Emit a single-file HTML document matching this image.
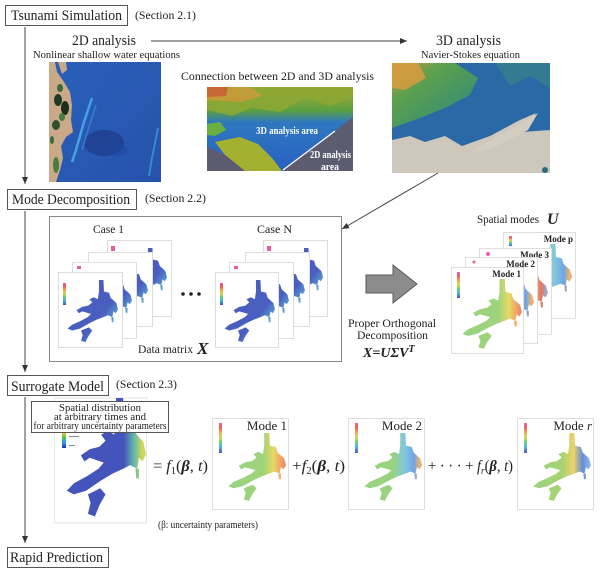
<!DOCTYPE html>
<html><head><meta charset="utf-8">
<style>
html,body{margin:0;padding:0;background:#fff;}
svg{display:block;}
text{font-family:"Liberation Serif",serif;fill:#222;}
</style></head><body>
<svg width="600" height="572" viewBox="0 0 600 572" xmlns="http://www.w3.org/2000/svg">
<defs>
 <marker id="ah" markerWidth="8" markerHeight="8" refX="7" refY="4" orient="auto" markerUnits="userSpaceOnUse">
   <path d="M0,1 L7,4 L0,7 Z" fill="#333"/>
 </marker>
 <symbol id="city" viewBox="0 0 100 100" preserveAspectRatio="none">
   <path d="M66,0 L74,0 L75,18 L84,20 L87,28 L97,36 L100,46 L96,52 L92,49 L90,58 L82,55 L74,58 L62,62 L48,68 L32,76 L18,79 L10,76 L18,70 L33,64 L46,58 L52,53 L44,51 L36,49 L30,52 L26,47 L36,42 L47,40 L54,35 L49,30 L57,27 L64,30 L66,18 Z M34,79 L48,74 L54,79 L47,88 L42,97 L34,95 L37,86 Z M88,58 L92,58 L92,66 L89,66 Z"/>
 </symbol>
 <linearGradient id="gCB" x1="0" y1="0" x2="0" y2="1">
   <stop offset="0" stop-color="#e040a0"/><stop offset=".15" stop-color="#e83830"/>
   <stop offset=".35" stop-color="#f0a030"/><stop offset=".5" stop-color="#c0d030"/>
   <stop offset=".65" stop-color="#40c060"/><stop offset=".8" stop-color="#30a0e0"/>
   <stop offset="1" stop-color="#2030a0"/>
 </linearGradient>
 <linearGradient id="gCase" x1="0" y1="0" x2="1" y2="1">
   <stop offset="0" stop-color="#2a42b4"/><stop offset=".62" stop-color="#2a42b4"/>
   <stop offset=".8" stop-color="#40a0c8"/><stop offset=".92" stop-color="#88c848"/>
   <stop offset="1" stop-color="#88c848"/>
 </linearGradient>
 <linearGradient id="gM1" x1="0" y1="0" x2="1" y2="0">
   <stop offset="0" stop-color="#7cc860"/><stop offset=".6" stop-color="#86c858"/>
   <stop offset=".78" stop-color="#e0d040"/><stop offset=".9" stop-color="#f09040"/>
   <stop offset="1" stop-color="#e86040"/>
 </linearGradient>
 <linearGradient id="gM2" x1="0" y1="0" x2="1" y2="0">
   <stop offset="0" stop-color="#80c860"/><stop offset=".5" stop-color="#80c860"/>
   <stop offset=".7" stop-color="#60b8d8"/><stop offset=".86" stop-color="#4a8ee0"/>
   <stop offset=".96" stop-color="#f0a040"/><stop offset="1" stop-color="#f08040"/>
 </linearGradient>
 <linearGradient id="gM3" x1="0" y1="0" x2="1" y2="0">
   <stop offset="0" stop-color="#80c860"/><stop offset=".55" stop-color="#80c860"/>
   <stop offset=".75" stop-color="#e8b040"/><stop offset=".88" stop-color="#e05040"/>
   <stop offset="1" stop-color="#60b0e0"/>
 </linearGradient>
 <linearGradient id="gMr" x1="0" y1="0" x2="1" y2="0">
   <stop offset="0" stop-color="#80c860"/><stop offset=".5" stop-color="#90c850"/>
   <stop offset=".7" stop-color="#e8c840"/><stop offset=".85" stop-color="#4070d0"/>
   <stop offset="1" stop-color="#70b0e0"/>
 </linearGradient>
 <linearGradient id="gSur" x1="0" y1="0" x2="1" y2="0">
   <stop offset="0" stop-color="#2a3cb0"/><stop offset=".72" stop-color="#2a3cb0"/>
   <stop offset=".85" stop-color="#50b0a0"/><stop offset=".95" stop-color="#c8d040"/>
   <stop offset="1" stop-color="#c8d040"/>
 </linearGradient>
 <linearGradient id="gSea" x1="0" y1="0" x2="1" y2="1">
   <stop offset="0" stop-color="#2a60b8"/><stop offset="1" stop-color="#2652ac"/>
 </linearGradient>
 <linearGradient id="gGrn3" x1="0" y1="0" x2="1" y2="1">
   <stop offset="0" stop-color="#c8a040"/><stop offset=".3" stop-color="#5ea04c"/>
   <stop offset=".75" stop-color="#3a9070"/><stop offset="1" stop-color="#2e7c98"/>
 </linearGradient>
 <linearGradient id="gCon" x1="0" y1="0" x2="0" y2="1">
   <stop offset="0" stop-color="#a8a838"/><stop offset=".28" stop-color="#5aa040"/>
   <stop offset=".42" stop-color="#2e78c0"/><stop offset="1" stop-color="#2a60c0"/>
 </linearGradient>
</defs>

<!-- ===== Headers ===== -->
<rect x="5.5" y="5.5" width="122" height="20" fill="#fff" stroke="#555"/>
<text x="11" y="20" font-size="15" textLength="111" lengthAdjust="spacingAndGlyphs">Tsunami Simulation</text>
<text x="135" y="19" font-size="12" textLength="61" lengthAdjust="spacingAndGlyphs">(Section 2.1)</text>

<rect x="7.5" y="189.5" width="129" height="20" fill="#fff" stroke="#555"/>
<text x="12" y="204" font-size="15" textLength="118" lengthAdjust="spacingAndGlyphs">Mode Decomposition</text>
<text x="145" y="202" font-size="12" textLength="61" lengthAdjust="spacingAndGlyphs">(Section 2.2)</text>

<rect x="7.5" y="375.5" width="101" height="20" fill="#fff" stroke="#555"/>
<text x="11" y="391" font-size="15" textLength="93" lengthAdjust="spacingAndGlyphs">Surrogate Model</text>
<text x="116" y="388" font-size="12" textLength="61" lengthAdjust="spacingAndGlyphs">(Section 2.3)</text>

<rect x="7.5" y="547.5" width="101" height="20" fill="#fff" stroke="#555"/>
<text x="10" y="562" font-size="15" textLength="93" lengthAdjust="spacingAndGlyphs">Rapid Prediction</text>

<!-- left arrows -->
<line x1="25" y1="27" x2="25" y2="184" stroke="#444" stroke-width="1" marker-end="url(#ah)"/>
<line x1="25" y1="211" x2="25" y2="372" stroke="#444" stroke-width="1" marker-end="url(#ah)"/>
<line x1="25" y1="397" x2="25" y2="543" stroke="#444" stroke-width="1" marker-end="url(#ah)"/>

<!-- ===== Tsunami simulation ===== -->
<text x="72" y="45" font-size="15" textLength="64" lengthAdjust="spacingAndGlyphs">2D analysis</text>
<text x="33" y="58" font-size="11" textLength="147" lengthAdjust="spacingAndGlyphs">Nonlinear shallow water equations</text>
<line x1="151" y1="41" x2="407" y2="41" stroke="#444" stroke-width="1" marker-end="url(#ah)"/>
<text x="436" y="45" font-size="15" textLength="65" lengthAdjust="spacingAndGlyphs">3D analysis</text>
<text x="421" y="58" font-size="11" textLength="99" lengthAdjust="spacingAndGlyphs">Navier-Stokes equation</text>
<text x="181" y="80" font-size="12" textLength="193" lengthAdjust="spacingAndGlyphs">Connection between 2D and 3D analysis</text>

<!-- 2D map -->
<g>
 <rect x="49" y="62" width="112" height="120" fill="url(#gSea)"/>
 <ellipse cx="104" cy="143" rx="20" ry="13" fill="#1c3a88" opacity=".7"/>
 <ellipse cx="118" cy="150" rx="10" ry="6" fill="#2048a0" opacity=".6"/>
 <path d="M92,98 L84,122 L76,150 L72,162" stroke="#48b0e8" stroke-width="2.5" fill="none" opacity=".85"/>
 <path d="M96,105 L88,130 L82,150" stroke="#3c8ed8" stroke-width="1.5" fill="none" opacity=".7"/>
 <path d="M158,128 L152,158 L149,176" stroke="#3a96dc" stroke-width="2" fill="none" opacity=".8"/>
 <path d="M49,62 L55,62 L57,72 L64,82 L70,92 L72,105 L71,120 L73,132 L66,137 L61,146 L63,158 L60,170 L56,182 L49,182 Z" fill="#c9a987"/>
 <path d="M58,62 L66,62 L67,70 L62,74 Z" fill="#c9a987"/>
 <ellipse cx="58" cy="100" rx="4" ry="6" fill="#1e3a26"/>
 <ellipse cx="65" cy="108" rx="4" ry="7" fill="#1a2e1e"/>
 <ellipse cx="56" cy="125" rx="4" ry="5" fill="#2a5030"/>
 <ellipse cx="60" cy="88" rx="3" ry="4" fill="#3a6a38"/>
 <ellipse cx="56" cy="165" rx="3" ry="8" fill="#4a7a40"/>
 <ellipse cx="52" cy="140" rx="2" ry="4" fill="#3a6a38"/>
 <ellipse cx="62" cy="117" rx="3" ry="4" fill="#4a7a40"/>
</g>

<!-- connection image -->
<g>
 <rect x="207" y="87" width="146" height="84" fill="url(#gCon)"/>
 <path d="M207,87 L353,87 L353,98 L330,106 L305,98 L280,112 L252,108 L232,116 L207,110 Z" fill="#8ca834" opacity=".85"/>
 <path d="M207,87 L250,87 L262,96 L240,102 L207,100 Z" fill="#c89a38" opacity=".9"/>
 <path d="M207,87 L228,87 L226,96 L207,97 Z" fill="#c85a30" opacity=".8"/>
 <path d="M207,124 L220,122 L226,130 L215,136 L207,135 Z" fill="#6ab040"/>
 <path d="M215,142 L240,137 L258,144 L272,158 L282,171 L245,171 L225,155 Z" fill="#a4b030"/>
 <path d="M207,147 L225,155 L245,171 L207,171 Z" fill="#5c5c70"/>
 <path d="M353,117 L353,171 L283,171 Z" fill="#5c5c70"/>
 <line x1="283" y1="170" x2="335" y2="131" stroke="#fff" stroke-width="1.3"/>
 <text x="256" y="134" font-size="10" font-weight="bold" style="fill:#fff" textLength="62" lengthAdjust="spacingAndGlyphs">3D analysis area</text>
 <text x="310" y="158" font-size="10" font-weight="bold" style="fill:#fff" textLength="41" lengthAdjust="spacingAndGlyphs">2D analysis</text>
 <text x="321" y="170" font-size="10" font-weight="bold" style="fill:#fff" textLength="18" lengthAdjust="spacingAndGlyphs">area</text>
</g>

<!-- 3D image -->
<g>
 <rect x="392" y="63" width="158" height="110" fill="#2a68a6"/>
 <path d="M392,63 L455,63 L478,78 L470,95 L445,108 L420,118 L392,128 Z" fill="url(#gGrn3)"/>
 <path d="M495,63 L550,63 L550,88 L530,76 L510,86 Z" fill="#3a8a80" opacity=".55"/>
 <path d="M392,63 L418,63 L426,78 L405,90 L392,88 Z" fill="#d89a40" opacity=".85"/>
 <path d="M392,140 L410,136 L425,142 L445,136 L462,146 L490,136 L520,120 L536,113 L522,132 L550,130 L550,173 L392,173 Z" fill="#cec7bc"/>
 <path d="M470,152 L520,124 L538,113 L528,130 L490,150 Z" fill="#d4cdc2"/>
 <circle cx="545" cy="170" r="3" fill="#2a6a80"/>
</g>
<line x1="438" y1="173" x2="342" y2="229" stroke="#444" stroke-width="1" marker-end="url(#ah)"/>

<!-- ===== Mode decomposition ===== -->
<rect x="49.5" y="216.5" width="292" height="145" fill="#fff" stroke="#888"/>
<text x="93" y="233" font-size="12" textLength="31" lengthAdjust="spacingAndGlyphs">Case 1</text>
<text x="257" y="233" font-size="12" textLength="35" lengthAdjust="spacingAndGlyphs">Case N</text>

<g fill-opacity=".85">
<rect x="107.5" y="240.5" width="64" height="76" fill="#fff" stroke="#ddd" fill-opacity="1"/>
<use href="#city" x="111" y="248" width="56" height="64" fill="url(#gCase)"/>
<rect x="111" y="246" width="4" height="5" fill="#e04090"/>
<rect x="88.5" y="252.5" width="64" height="74" fill="#fff" stroke="#ddd" fill-opacity="1"/>
<use href="#city" x="92" y="262" width="56" height="62" fill="url(#gCase)"/>
<rect x="72.5" y="262.5" width="64" height="76" fill="#fff" stroke="#ddd" fill-opacity="1"/>
<use href="#city" x="76" y="272" width="56" height="62" fill="url(#gCase)"/>
<rect x="77" y="266" width="4" height="3" fill="#e04090"/>
<rect x="58.5" y="272.5" width="64" height="75" fill="#fff" stroke="#ddd" fill-opacity="1"/>
<use href="#city" x="62" y="280" width="56" height="64" fill="url(#gCase)"/>
<rect x="63" y="283" width="3" height="22" fill="url(#gCB)"/>

<rect x="263.5" y="240.5" width="64" height="76" fill="#fff" stroke="#ddd" fill-opacity="1"/>
<use href="#city" x="267" y="248" width="56" height="64" fill="url(#gCase)"/>
<rect x="267" y="246" width="4" height="5" fill="#e04090"/>
<rect x="245.5" y="252.5" width="64" height="74" fill="#fff" stroke="#ddd" fill-opacity="1"/>
<use href="#city" x="249" y="262" width="56" height="62" fill="url(#gCase)"/>
<rect x="229.5" y="262.5" width="64" height="76" fill="#fff" stroke="#ddd" fill-opacity="1"/>
<use href="#city" x="233" y="272" width="56" height="62" fill="url(#gCase)"/>
<rect x="234" y="266" width="4" height="3" fill="#e04090"/>
<rect x="215.5" y="272.5" width="63" height="75" fill="#fff" stroke="#ddd" fill-opacity="1"/>
<use href="#city" x="219" y="280" width="56" height="64" fill="url(#gCase)"/>
<rect x="220" y="283" width="3" height="22" fill="url(#gCB)"/>
</g>

<circle cx="183" cy="294" r="1.8" fill="#222"/>
<circle cx="191" cy="294" r="1.8" fill="#222"/>
<circle cx="199" cy="294" r="1.8" fill="#222"/>

<text x="138" y="353" font-size="12" textLength="55" lengthAdjust="spacingAndGlyphs">Data matrix</text>
<text x="197" y="354" font-size="17" font-weight="bold" font-style="italic">X</text>

<path d="M366,275 L393,275 L393,265 L417,284 L393,303 L393,293 L366,293 Z" fill="#8c8c8c" stroke="#5a5a5a" stroke-width="1"/>

<text x="348" y="327" font-size="12" textLength="88" lengthAdjust="spacingAndGlyphs">Proper Orthogonal</text>
<text x="357" y="339" font-size="12" textLength="71" lengthAdjust="spacingAndGlyphs">Decomposition</text>
<text x="363" y="357" font-size="14" font-weight="bold" font-style="italic">X=U<tspan>Σ</tspan>V<tspan dy="-5" font-size="10">T</tspan></text>

<text x="477" y="223" font-size="12" textLength="62" lengthAdjust="spacingAndGlyphs">Spatial modes</text>
<text x="547" y="224" font-size="16" font-weight="bold" font-style="italic">U</text>

<g fill-opacity=".8">
<rect x="503.5" y="232.5" width="72" height="86" fill="#fff" stroke="#ddd" fill-opacity="1"/>
<use href="#city" x="508" y="244" width="64" height="72" fill="url(#gM2)"/>
<rect x="509" y="236" width="3" height="10" fill="url(#gCB)"/>
<text x="573" y="242" font-size="9" font-weight="bold" text-anchor="end" fill-opacity="1">Mode p</text>

<rect x="479.5" y="248.5" width="72" height="86" fill="#fff" stroke="#ddd" fill-opacity="1"/>
<use href="#city" x="484" y="260" width="64" height="72" fill="url(#gM3)"/>
<circle cx="488" cy="254" r="2" fill="#e04090"/>
<text x="549" y="258" font-size="9" font-weight="bold" text-anchor="end" fill-opacity="1">Mode 3</text>

<rect x="465.5" y="257.5" width="72" height="86" fill="#fff" stroke="#ddd" fill-opacity="1"/>
<use href="#city" x="470" y="269" width="64" height="72" fill="url(#gM2)"/>
<circle cx="474" cy="262" r="1.5" fill="#e04090"/>
<text x="535" y="267" font-size="9" font-weight="bold" text-anchor="end" fill-opacity="1">Mode 2</text>

<rect x="451.5" y="267.5" width="72" height="86" fill="#fff" stroke="#ddd" fill-opacity="1"/>
<use href="#city" x="456" y="279" width="66" height="72" fill="url(#gM1)"/>
<rect x="457" y="272" width="3" height="26" fill="url(#gCB)"/>
<text x="521" y="277" font-size="9" font-weight="bold" text-anchor="end" fill-opacity="1">Mode 1</text>
</g>

<!-- ===== Surrogate model ===== -->
<rect x="54.5" y="398" width="92" height="125" fill="#fff" stroke="#e6e6e6"/>
<use href="#city" x="58" y="398" width="88" height="122" fill="url(#gSur)" fill-opacity=".88"/>
<rect x="62" y="420" width="4" height="28" fill="url(#gCB)"/>
<rect x="69" y="427" width="10" height="1" fill="#888"/>
<rect x="69" y="436" width="10" height="1" fill="#888"/>
<rect x="69" y="445" width="6" height="1" fill="#888"/>

<rect x="31.5" y="401.5" width="137" height="31" fill="#fff" stroke="#555"/>
<text x="100" y="411" font-size="10" text-anchor="middle" textLength="82" lengthAdjust="spacingAndGlyphs">Spatial distribution</text>
<text x="100" y="420" font-size="10" text-anchor="middle" textLength="92" lengthAdjust="spacingAndGlyphs">at arbitrary times and</text>
<text x="100" y="429" font-size="10" text-anchor="middle" textLength="133" lengthAdjust="spacingAndGlyphs">for arbitrary uncertainty parameters</text>

<text x="153" y="471" font-size="16" textLength="55" lengthAdjust="spacingAndGlyphs">= <tspan font-style="italic">f</tspan><tspan font-size="10" dy="3">1</tspan><tspan dy="-3">(</tspan><tspan font-weight="bold" font-style="italic">β</tspan>, <tspan font-style="italic">t</tspan>)</text>
<text x="292" y="471" font-size="16" textLength="53" lengthAdjust="spacingAndGlyphs">+<tspan font-style="italic">f</tspan><tspan font-size="10" dy="3">2</tspan><tspan dy="-3">(</tspan><tspan font-weight="bold" font-style="italic">β</tspan>, <tspan font-style="italic">t</tspan>)</text>
<text x="428" y="471" font-size="16" textLength="85" lengthAdjust="spacingAndGlyphs">+ · · · + <tspan font-style="italic">f</tspan><tspan font-size="10" dy="3" font-style="italic">r</tspan><tspan dy="-3">(</tspan><tspan font-weight="bold" font-style="italic">β</tspan>, <tspan font-style="italic">t</tspan>)</text>

<text x="158" y="528" font-size="10" textLength="100" lengthAdjust="spacingAndGlyphs">(β: uncertainty parameters)</text>

<g fill-opacity=".8">
<rect x="212.5" y="418.5" width="76" height="91" fill="#fff" stroke="#ddd" fill-opacity="1"/>
<use href="#city" x="222" y="433" width="64" height="70" fill="url(#gM1)"/>
<rect x="219" y="423" width="3" height="30" fill="url(#gCB)"/>
<text x="287" y="430" font-size="13" text-anchor="end" fill-opacity="1">Mode 1</text>

<rect x="348.5" y="418.5" width="76" height="91" fill="#fff" stroke="#ddd" fill-opacity="1"/>
<use href="#city" x="358" y="433" width="64" height="70" fill="url(#gM2)"/>
<rect x="355" y="423" width="3" height="30" fill="url(#gCB)"/>
<text x="422" y="430" font-size="13" text-anchor="end" fill-opacity="1">Mode 2</text>

<rect x="517.5" y="418.5" width="76" height="91" fill="#fff" stroke="#ddd" fill-opacity="1"/>
<use href="#city" x="527" y="433" width="64" height="70" fill="url(#gMr)"/>
<rect x="524" y="423" width="3" height="30" fill="url(#gCB)"/>
<text x="592" y="430" font-size="13" text-anchor="end" fill-opacity="1">Mode <tspan font-style="italic">r</tspan></text>
</g>
</svg>
</body></html>
